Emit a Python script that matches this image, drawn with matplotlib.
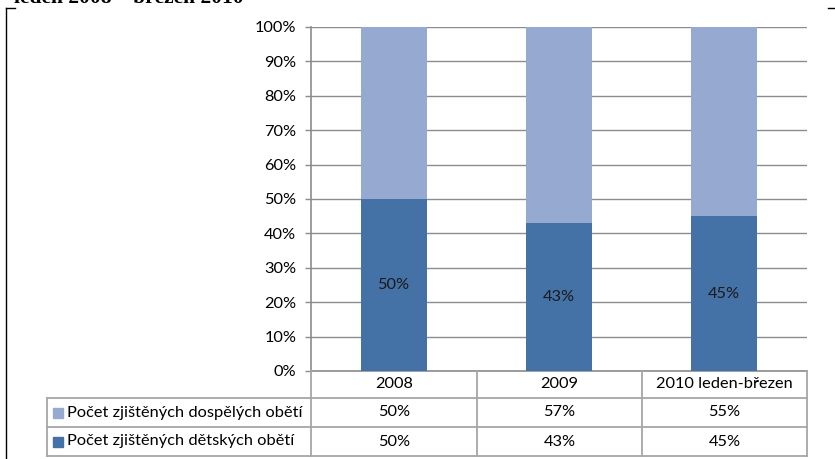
import matplotlib
matplotlib.use("Agg")
import matplotlib.pyplot as plt
from matplotlib.lines import Line2D
from matplotlib.patches import Rectangle

# Data
categories = ["2008", "2009", "2010 leden-březen"]
series_names = ["Počet zjištěných dospělých obětí", "Počet zjištěných dětských obětí"]
adults = [50, 57, 55]
children = [50, 43, 45]
title_text = "leden 2008 – březen 2010"

DARK = "#4472A6"
LIGHT = "#95A9D1"
GRID = "#8C8C8C"
TABLE = "#A6A6A6"
FONT = ["Lato", "DejaVu Sans"]

W, H = 835, 459
fig = plt.figure(figsize=(W / 100, H / 100), dpi=100)
plt.rcParams["font.family"] = FONT

def fx(px):
    return px / W

def fy(py):
    return 1 - py / H

fs = 11.8

# Plot area in pixel geometry
left, right, top, bottom = 311, 807, 27, 371
ax = fig.add_axes([fx(left), fy(bottom), fx(right - left), fy(top) - fy(bottom)])

x = list(range(len(categories)))
ch = [v / 100 for v in children]
ad = [v / 100 for v in adults]
b1 = ax.bar(x, ch, width=0.4, color=DARK, zorder=3)
b2 = ax.bar(x, ad, width=0.4, bottom=ch, color=LIGHT, zorder=3)
ax.bar_label(b1, labels=[f"{v}%" for v in children], label_type="center",
             fontsize=fs, color="#1a1a1a")

ax.set_xlim(-0.5, len(categories) - 0.5)
ax.set_ylim(0, 1)
yt = [i / 10 for i in range(11)]
ax.set_yticks(yt)
ax.set_yticklabels([f"{int(round(t * 100))}%" for t in yt], fontsize=fs)
ax.set_xticks([])
ax.yaxis.grid(True, color=GRID, linewidth=1.0, zorder=0)
ax.set_axisbelow(True)
for s in ["top", "right"]:
    ax.spines[s].set_visible(False)
ax.spines["left"].set_color(GRID)
ax.spines["bottom"].set_color(GRID)
ax.spines["left"].set_linewidth(1.2)
ax.spines["bottom"].set_linewidth(1.2)
ax.tick_params(axis="y", length=4.5, color=GRID, width=1.0, pad=6)

# Overlay in pixel coordinates for table, border and title
ov = fig.add_axes([0, 0, 1, 1], zorder=5)
ov.set_xlim(0, W)
ov.set_ylim(H, 0)
ov.axis("off")
ov.patch.set_alpha(0)

def hline(y, x0, x1, c=TABLE, lw=1.3):
    ov.add_line(Line2D([x0, x1], [y, y], color=c, lw=lw))

def vline(xp, y0, y1, c=TABLE, lw=1.3):
    ov.add_line(Line2D([xp, xp], [y0, y1], color=c, lw=lw))

col_edges = [311, 477, 642, 807]
row_edges = [371, 398, 427, 456]
leg_left = 47

hline(row_edges[1], leg_left, col_edges[-1])
hline(row_edges[2], leg_left, col_edges[-1])
hline(row_edges[3], leg_left, col_edges[-1])
for xe in col_edges:
    vline(xe, row_edges[0], row_edges[3])
vline(leg_left, row_edges[1], row_edges[3])

for i, cat in enumerate(categories):
    cx = (col_edges[i] + col_edges[i + 1]) / 2
    ov.text(cx, (row_edges[0] + row_edges[1]) / 2, cat, ha="center", va="center", fontsize=fs)
    ov.text(cx, (row_edges[1] + row_edges[2]) / 2, f"{adults[i]}%", ha="center", va="center", fontsize=fs)
    ov.text(cx, (row_edges[2] + row_edges[3]) / 2, f"{children[i]}%", ha="center", va="center", fontsize=fs)

for r, (name, col) in enumerate(zip(series_names, [LIGHT, DARK])):
    cy = (row_edges[r + 1] + row_edges[r + 2]) / 2
    ov.add_patch(Rectangle((53, cy - 5), 10, 10, color=col))
    ov.text(67, cy, name, ha="left", va="center", fontsize=fs)

# Outer chart border (top edge hidden behind the title)
vline(6, 8, H + 5, c="black", lw=1.0)
hline(8, 6, 15, c="black", lw=1.0)
hline(8, 828, W + 5, c="black", lw=1.0)

# Title, mostly above the visible area
ov.text(14, 3, title_text, ha="left", va="baseline", fontsize=15.5,
        fontweight="bold", family="Liberation Serif")

fig.savefig("out.png", dpi=100)
